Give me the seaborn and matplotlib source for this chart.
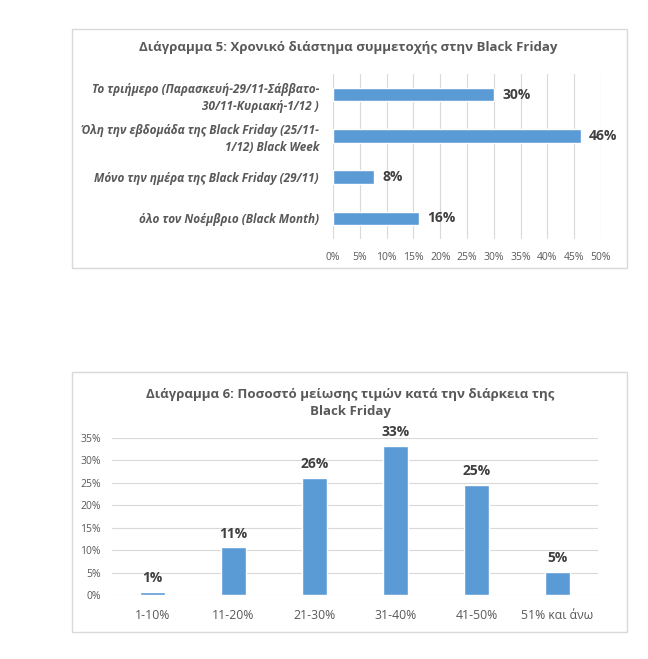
import matplotlib
matplotlib.use("Agg")
import matplotlib.pyplot as plt
import seaborn as sns
import pandas as pd
from matplotlib.patches import Rectangle

# ---- data ----
cats1 = ["Το τριήμερο (Παρασκευή-29/11-Σάββατο-\n30/11-Κυριακή-1/12 )",
         "Όλη την εβδομάδα της Black Friday (25/11-\n1/12) Black Week",
         "Μόνο την ημέρα της Black Friday (29/11)",
         "όλο τον Νοέμβριο (Black Month)"]
vals1 = [30.0, 46.2, 7.6, 16.0]
title1 = "Διάγραμμα 5: Χρονικό διάστημα συμμετοχής στην Black Friday"

cats2 = ["1-10%", "11-20%", "21-30%", "31-40%", "41-50%", "51% και άνω"]
vals2 = [0.6, 10.6, 26.1, 33.2, 24.6, 5.1]
title2 = "Διάγραμμα 6: Ποσοστό μείωσης τιμών κατά την διάρκεια της\nBlack Friday"

sns.set_theme(style="white")
plt.rcParams["font.family"] = ["Open Sans", "DejaVu Sans"]

BLUE = "#5b9bd5"
GRAY = "#595959"
DARK = "#404040"
GRID = "#d9d9d9"

W, H = 648, 659
fig = plt.figure(figsize=(W / 100, H / 100), dpi=100)
fig.patch.set_facecolor("white")

def box(x0, y0, x1, y1):
    fig.patches.append(Rectangle((x0 / W, 1 - y1 / H), (x1 - x0) / W, (y1 - y0) / H,
                                 transform=fig.transFigure, fill=False,
                                 edgecolor=GRID, linewidth=1.0))

def ax_px(x0, y0, x1, y1):
    return fig.add_axes([x0 / W, 1 - y1 / H, (x1 - x0) / W, (y1 - y0) / H])

# ---- chart 1 ----
box(72, 29, 627, 268)
fig.text(348 / W, 1 - 47 / H, title1, ha="center", va="center",
         fontsize=9.5, fontweight="bold", color=GRAY)
ax1 = ax_px(333, 74, 601, 239)
df1 = pd.DataFrame({"cat": cats1, "val": vals1})
sns.barplot(data=df1, y="cat", x="val", orient="h", color=BLUE, width=0.33,
            saturation=1, ax=ax1)
ax1.set_xlim(0, 50)
ax1.set_xticks(range(0, 51, 5))
ax1.set_xticklabels([f"{t}%" for t in range(0, 51, 5)])
ax1.set_xlabel("")
ax1.set_ylabel("")
ax1.grid(axis="x", color=GRID, linewidth=0.8)
ax1.set_axisbelow(True)
for s in ax1.spines.values():
    s.set_visible(False)
ax1.tick_params(axis="x", length=0, pad=9, labelsize=7.5, labelcolor=GRAY)
ax1.tick_params(axis="y", length=0, pad=10, labelsize=8.5, labelcolor=GRAY)
for lab in ax1.get_yticklabels():
    lab.set_fontweight("bold")
    lab.set_fontstyle("italic")
    lab.set_horizontalalignment("right")
    lab.set_linespacing(1.35)
for i, v in enumerate(vals1):
    ax1.annotate(f"{round(v)}%", xy=(v, i), xytext=(6, 0), textcoords="offset points",
                 ha="left", va="center", fontsize=10, fontweight="bold", color=DARK)

# ---- chart 2 ----
box(72, 372, 627, 632)
fig.text(350 / W, 1 - 403 / H, title2, ha="center", va="center",
         fontsize=9.5, fontweight="bold", color=GRAY, linespacing=1.45)
ax2 = ax_px(112, 438, 598, 595)
df2 = pd.DataFrame({"cat": cats2, "val": vals2})
sns.barplot(data=df2, x="cat", y="val", color=BLUE, width=0.31, saturation=1, ax=ax2)
ax2.set_ylim(0, 35)
ax2.set_yticks(range(0, 36, 5))
ax2.set_yticklabels([f"{t}%" for t in range(0, 36, 5)])
ax2.set_xlabel("")
ax2.set_ylabel("")
ax2.grid(axis="y", color=GRID, linewidth=0.8)
ax2.set_axisbelow(True)
for s in ax2.spines.values():
    s.set_visible(False)
ax2.tick_params(axis="x", length=0, pad=10, labelsize=8.8, labelcolor=GRAY)
ax2.tick_params(axis="y", length=0, pad=8, labelsize=7.5, labelcolor=GRAY)
for i, v in enumerate(vals2):
    ax2.annotate(f"{round(v)}%", xy=(i, v), xytext=(0, 5), textcoords="offset points",
                 ha="center", va="bottom", fontsize=10, fontweight="bold", color=DARK)

fig.savefig("out.png", dpi=100)
